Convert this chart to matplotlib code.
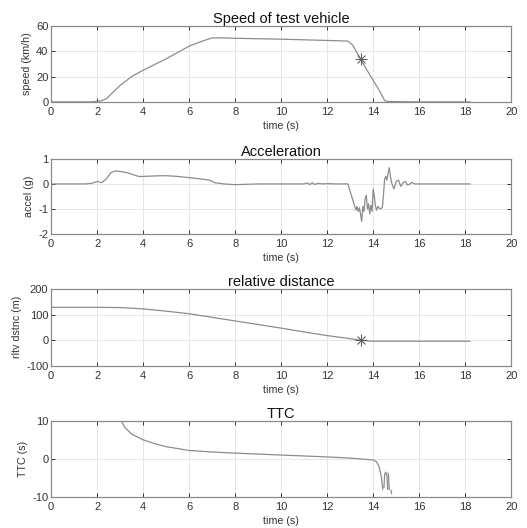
import numpy as np
import matplotlib.pyplot as plt

plt.rcParams['font.family'] = ['Liberation Sans', 'DejaVu Sans']
plt.rcParams['axes.unicode_minus'] = False

# -------------------------------
# Data
# -------------------------------
speed_t = [0, 1.8, 2.0, 2.2, 2.4, 2.6, 3.0, 3.5, 4.0, 5.0, 6.0, 6.5, 7.0, 7.5, 8.0,
           10.0, 12.0, 12.9, 13.1, 13.45, 13.7, 14.0, 14.3, 14.5, 14.6, 15.0, 16.0, 18.2]
speed_v = [0, 0, 0.5, 1, 2.5, 6, 13, 20, 25, 34, 44, 47.5, 50.5, 50.5, 50.2,
           49.5, 48.5, 48, 45, 34, 26, 17, 8, 1, 0.4, 0.2, 0, 0]
speed_mark = (13.45, 34)

acc_t = [0, 1.5, 1.8, 2.0, 2.2, 2.4, 2.6, 2.8, 3.0, 3.3, 3.6, 3.8, 4.0, 4.5, 5.0, 5.5,
         6.0, 6.5, 6.9, 7.1, 7.5, 8.0, 9.0, 10.0, 11.0, 11.15, 11.25, 11.35, 11.45,
         11.6, 11.8, 12.0, 12.4, 12.9, 13.0, 13.1, 13.2, 13.25, 13.3, 13.35, 13.4,
         13.45, 13.5, 13.55, 13.6, 13.65, 13.7, 13.75, 13.8, 13.85, 13.9, 13.95, 14.0,
         14.05, 14.1, 14.15, 14.2, 14.3, 14.4, 14.45, 14.5, 14.55, 14.6, 14.65, 14.7,
         14.75, 14.8, 14.9, 15.0, 15.1, 15.2, 15.3, 15.4, 15.5, 15.6, 15.7, 15.8,
         16.0, 17.0, 18.2]
acc_v = [0, 0, 0.03, 0.1, 0.05, 0.2, 0.45, 0.52, 0.5, 0.45, 0.36, 0.3, 0.3, 0.32, 0.33, 0.3,
         0.25, 0.2, 0.15, 0.05, 0.0, -0.03, 0.0, 0.0, 0.0, 0.04, -0.03, 0.05, -0.02,
         0.02, 0.0, 0.01, 0.0, 0.0, -0.3, -0.6, -0.9, -1.05, -0.9, -1.1, -0.95,
         -1.2, -1.5, -0.9, -1.1, -0.6, -0.45, -1.0, -0.8, -1.2, -0.85, -1.1, -0.2,
         -0.5, -0.9, -1.05, -0.9, -1.0, -0.95, -0.4, 0.2, 0.3, 0.15, 0.45, 0.65,
         0.3, 0.05, -0.2, 0.1, 0.15, -0.1, 0.05, 0.1, -0.05, 0.0, 0.06, 0.0,
         0.0, 0.0, 0.0]

dist_t = [0, 2.0, 3.0, 4.0, 5.0, 6.0, 7.0, 8.0, 9.0, 10.0, 11.0, 12.0, 13.0, 13.45, 14.0, 18.2]
dist_v = [128, 128, 127, 122, 113, 103, 89, 75, 61, 47, 32, 18, 6, 0, -4, -4]
dist_mark = (13.45, 0)

ttc_t = [3.05, 3.2, 3.5, 4.0, 4.5, 5.0, 6.0, 7.0, 8.0, 10.0, 12.0, 13.0, 14.0, 14.15,
         14.25, 14.35, 14.42, np.nan, 14.47, 14.5, 14.55, 14.6, 14.63, np.nan,
         14.66, 14.7, np.nan, 14.78, 14.8]
ttc_v = [10, 8.3, 6.5, 5.0, 4.0, 3.2, 2.2, 1.8, 1.5, 1.0, 0.5, 0.2, -0.3, -0.8,
         -2.0, -4.5, -8.0, np.nan, -7.5, -4.0, -3.5, -4.5, -8.0, np.nan,
         -3.8, -8.0, np.nan, -8.3, -9.2]

# -------------------------------
# Figure
# -------------------------------
fig = plt.figure(figsize=(5.27, 5.28), dpi=100)
line_c = '#8c8c8c'
panels = [
    ([0.097, 0.807, 0.873, 0.144], speed_t, speed_v, (0, 60), [0, 20, 40, 60],
     'Speed of test vehicle', 'speed (km/h)', speed_mark),
    ([0.097, 0.557, 0.873, 0.142], acc_t, acc_v, (-2, 1), [-2, -1, 0, 1],
     'Acceleration', 'accel (g)', None),
    ([0.097, 0.307, 0.873, 0.146], dist_t, dist_v, (-100, 200), [-100, 0, 100, 200],
     'relative distance', 'rltv dstnc (m)', dist_mark),
    ([0.097, 0.059, 0.873, 0.144], ttc_t, ttc_v, (-10, 10), [-10, 0, 10],
     'TTC', 'TTC (s)', None),
]

for rect, t, v, ylim, yticks, title, ylabel, mark in panels:
    ax = fig.add_axes(rect)
    ax.plot(t, v, color=line_c, lw=0.9)
    if mark is not None:
        ax.plot(*mark, marker='+', ms=8, color='#606060', mew=0.8)
        ax.plot(*mark, marker='x', ms=5.5, color='#606060', mew=0.8)
    ax.set_xlim(0, 20)
    ax.set_ylim(*ylim)
    ax.set_xticks(range(0, 21, 2))
    ax.set_yticks(yticks)
    ax.grid(True, color='#e6e6e6', lw=0.7)
    ax.set_axisbelow(True)
    ax.tick_params(direction='in', top=True, right=True, labelsize=8,
                   colors='#333333', length=3, width=0.7, pad=2)
    ax.tick_params(axis='x', pad=4)
    for s in ax.spines.values():
        s.set_color('#8a8a8a')
        s.set_linewidth(0.9)
    ax.set_title(title, fontsize=10.5, color='#111111', pad=2)
    ax.set_xlabel('time (s)', fontsize=7.7, color='#333333', labelpad=2.5)
    ax.set_ylabel(ylabel, fontsize=7.7, color='#333333', labelpad=3)

fig.savefig('out.png', dpi=100)
